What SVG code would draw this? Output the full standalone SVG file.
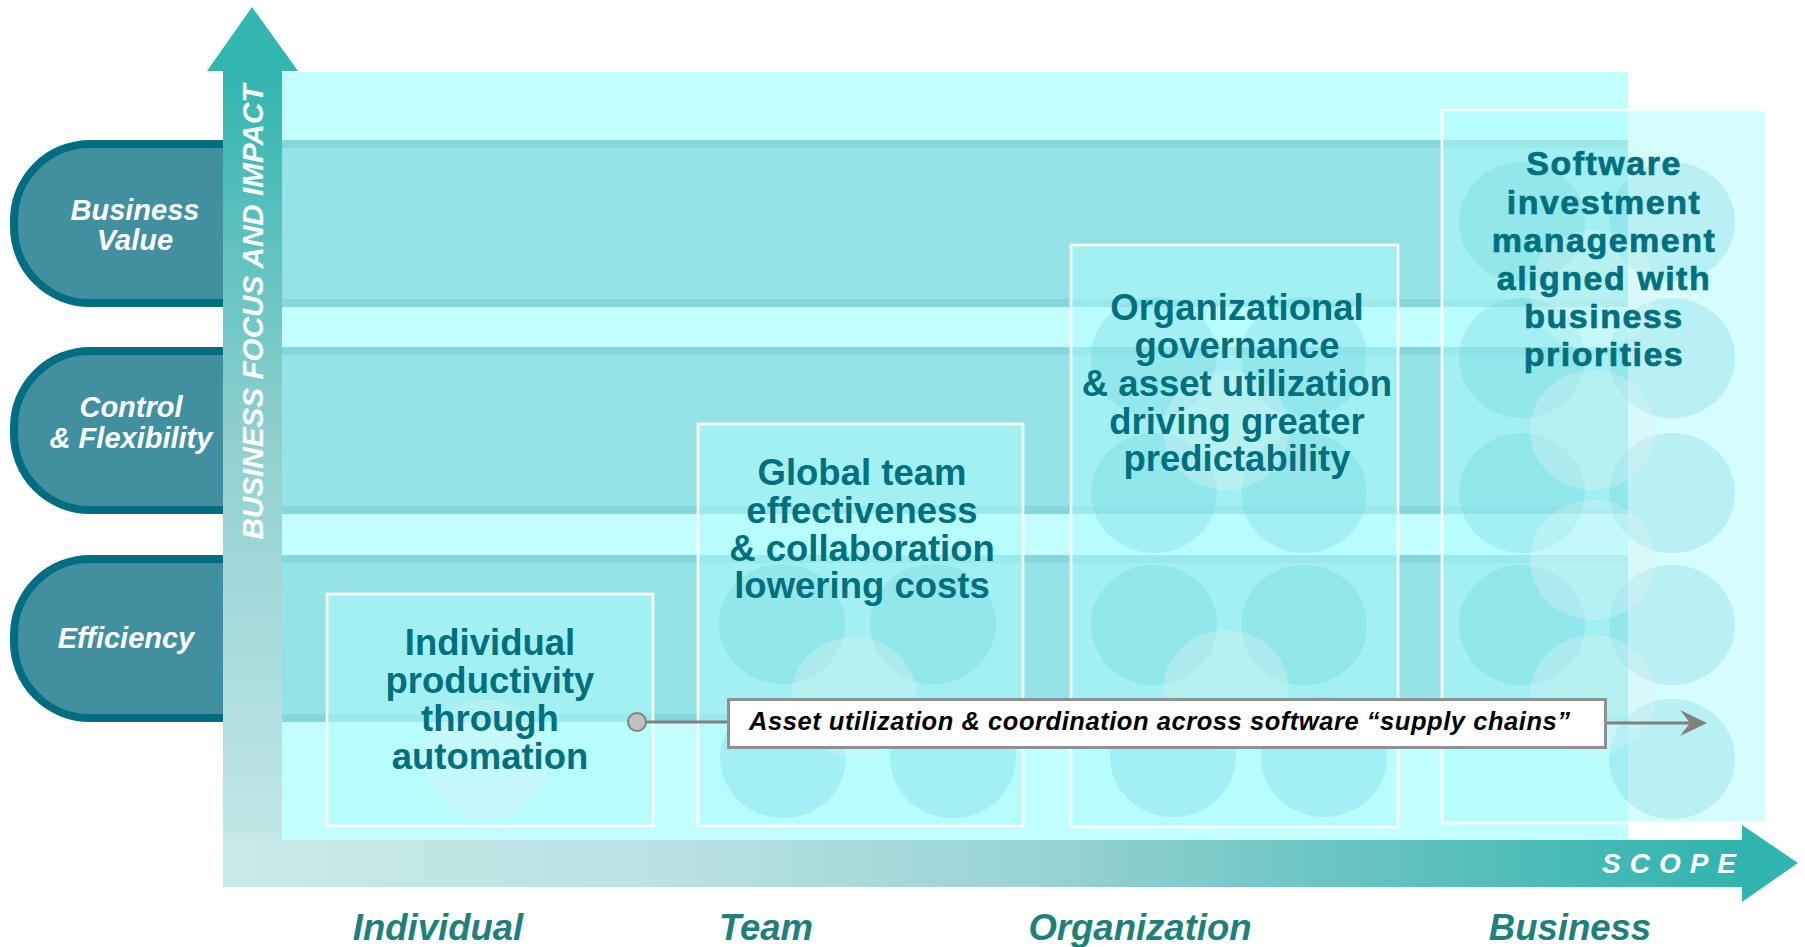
<svg xmlns="http://www.w3.org/2000/svg" width="1805" height="947" viewBox="0 0 1805 947">
<defs>
<linearGradient id="gv" gradientUnits="userSpaceOnUse" x1="0" y1="71" x2="0" y2="887">
<stop offset="0" stop-color="#33b5b0"/><stop offset="0.45" stop-color="#8fd0cf"/><stop offset="1" stop-color="#c8eaea"/>
</linearGradient>
<linearGradient id="gh" gradientUnits="userSpaceOnUse" x1="223" y1="0" x2="1742" y2="0">
<stop offset="0" stop-color="#c8eaea"/><stop offset="0.3" stop-color="#b9e2e2"/><stop offset="0.55" stop-color="#95d3d1"/><stop offset="0.78" stop-color="#5fc1bd"/><stop offset="1" stop-color="#30b4af"/>
</linearGradient>
<style>
.band{fill:#95e3e6}
.stripe{fill:#84d7dc}
.pill{fill:#4090a0;stroke:#006e80;stroke-width:8}
.pt{font-family:"Liberation Sans",Arial,sans-serif;font-weight:bold;font-style:italic;font-size:29px;fill:#fff;text-anchor:middle}
.box{fill:rgb(174,251,251);fill-opacity:0.52}
.boxs{fill:none;stroke:#fff;stroke-width:2.6}
.dc{fill:rgb(100,205,215);fill-opacity:0.26}
.lc{fill:rgb(225,242,242);fill-opacity:0.32}
.bt{font-family:"Liberation Sans",Arial,sans-serif;font-weight:bold;font-size:36.5px;fill:#00707f;text-anchor:middle}
.bt2{font-family:"Liberation Sans",Arial,sans-serif;font-weight:bold;font-size:34px;letter-spacing:1.5px;fill:#00707f;stroke:#00707f;stroke-width:0.7;text-anchor:middle}
.ax{font-family:"Liberation Sans",Arial,sans-serif;font-weight:bold;font-style:italic;font-size:36.5px;fill:#217f7a;text-anchor:middle}
</style>
</defs>

<g id="background">
<rect x="282" y="72" width="1346" height="768" fill="#c3ffff"/>
</g>

<g id="bands">
<rect class="band" x="200" y="140" width="1428" height="167"/>
<rect class="stripe" x="200" y="140" width="1428" height="8"/>
<rect class="stripe" x="200" y="299" width="1428" height="8"/>
<rect class="band" x="200" y="347" width="1428" height="167"/>
<rect class="stripe" x="200" y="347" width="1428" height="8"/>
<rect class="stripe" x="200" y="506" width="1428" height="8"/>
<rect class="band" x="200" y="555" width="1428" height="167"/>
<rect class="stripe" x="200" y="555" width="1428" height="8"/>
<rect class="stripe" x="200" y="714" width="1428" height="8"/>
</g>

<g id="pill-business-value">
<path class="pill" d="M240 144 H90 A76 76 0 0 0 14 220 V227 A76 76 0 0 0 90 303 H240 Z"/>
<text class="pt" x="135" y="220">Business</text>
<text class="pt" x="135" y="250">Value</text>
</g>
<g id="pill-control">
<path class="pill" d="M240 351 H90 A76 76 0 0 0 14 427 V434 A76 76 0 0 0 90 510 H240 Z"/>
<text class="pt" x="131" y="417">Control</text>
<text class="pt" x="131" y="448">&amp; Flexibility</text>
</g>
<g id="pill-efficiency">
<path class="pill" d="M240 559 H90 A76 76 0 0 0 14 635 V642 A76 76 0 0 0 90 718 H240 Z"/>
<text class="pt" x="126" y="648">Efficiency</text>
</g>

<g id="axis-vertical">
<rect x="223" y="71" width="59" height="816" fill="url(#gv)"/>
<polygon points="207,71 252,7 298,71" fill="#33b5b0"/>
<text transform="translate(263,312) rotate(-90)" font-family="Liberation Sans, Arial, sans-serif" font-weight="bold" font-style="italic" font-size="29.7" fill="#fff" text-anchor="middle">BUSINESS FOCUS AND IMPACT</text>
</g>

<g id="axis-horizontal">
<rect x="223" y="840" width="1520" height="47" fill="url(#gh)"/>
<polygon points="1742,825 1798,863 1742,902" fill="#30b4af"/>
<text x="1602" y="873" font-family="Liberation Sans, Arial, sans-serif" font-weight="bold" font-style="italic" font-size="28" letter-spacing="9" fill="#fff">SCOPE</text>
</g>

<g id="box-individual">
<rect class="box" x="327" y="594" width="326" height="232"/>
<ellipse class="lc" cx="486" cy="760" rx="62" ry="60"/>
<rect class="boxs" x="327" y="594" width="326" height="232"/>
<text class="bt" x="490" y="655">Individual</text>
<text class="bt" x="490" y="693">productivity</text>
<text class="bt" x="490" y="731">through</text>
<text class="bt" x="490" y="769">automation</text>
</g>

<g id="box-team">
<rect class="box" x="698" y="424" width="325" height="402"/>
<ellipse class="dc" cx="782" cy="624" rx="63" ry="60"/>
<ellipse class="dc" cx="933" cy="624" rx="63" ry="60"/>
<ellipse class="dc" cx="783" cy="758" rx="63" ry="60"/>
<ellipse class="dc" cx="953" cy="758" rx="63" ry="60"/>
<ellipse class="lc" cx="854" cy="697" rx="63" ry="60"/>
<rect class="boxs" x="698" y="424" width="325" height="402"/>
<text class="bt" x="862" y="485">Global team</text>
<text class="bt" x="862" y="523">effectiveness</text>
<text class="bt" x="862" y="561">&amp; collaboration</text>
<text class="bt" x="862" y="598">lowering costs</text>
</g>

<g id="box-organization">
<rect class="box" x="1071" y="245" width="327" height="582"/>
<ellipse class="dc" cx="1154" cy="357" rx="63" ry="60"/>
<ellipse class="dc" cx="1304" cy="357" rx="63" ry="60"/>
<ellipse class="dc" cx="1154" cy="493" rx="63" ry="60"/>
<ellipse class="dc" cx="1304" cy="493" rx="63" ry="60"/>
<ellipse class="dc" cx="1154" cy="625" rx="63" ry="60"/>
<ellipse class="dc" cx="1304" cy="625" rx="63" ry="60"/>
<ellipse class="dc" cx="1173" cy="757" rx="63" ry="60"/>
<ellipse class="dc" cx="1324" cy="757" rx="63" ry="60"/>
<ellipse class="lc" cx="1226" cy="430" rx="63" ry="60"/>
<ellipse class="lc" cx="1226" cy="690" rx="63" ry="60"/>
<rect class="boxs" x="1071" y="245" width="327" height="582"/>
<text class="bt" x="1237" y="320">Organizational</text>
<text class="bt" x="1237" y="358">governance</text>
<text class="bt" x="1237" y="396">&amp; asset utilization</text>
<text class="bt" x="1237" y="434">driving greater</text>
<text class="bt" x="1237" y="471">predictability</text>
</g>

<g id="box-business">
<rect class="box" x="1442" y="110" width="325" height="713"/>
<ellipse class="dc" cx="1522" cy="222" rx="63" ry="60"/>
<ellipse class="dc" cx="1672" cy="222" rx="63" ry="60"/>
<ellipse class="dc" cx="1522" cy="358" rx="63" ry="60"/>
<ellipse class="dc" cx="1672" cy="358" rx="63" ry="60"/>
<ellipse class="dc" cx="1522" cy="493" rx="63" ry="60"/>
<ellipse class="dc" cx="1672" cy="493" rx="63" ry="60"/>
<ellipse class="dc" cx="1522" cy="625" rx="63" ry="60"/>
<ellipse class="dc" cx="1672" cy="625" rx="63" ry="60"/>
<ellipse class="dc" cx="1672" cy="759" rx="63" ry="60"/>
<ellipse class="lc" cx="1593" cy="290" rx="63" ry="60"/>
<ellipse class="lc" cx="1593" cy="430" rx="63" ry="60"/>
<ellipse class="lc" cx="1593" cy="560" rx="63" ry="60"/>
<ellipse class="lc" cx="1593" cy="695" rx="63" ry="60"/>
<rect class="boxs" x="1442" y="110" width="325" height="713"/>
<text class="bt2" x="1604" y="175">Software</text>
<text class="bt2" x="1604" y="214">investment</text>
<text class="bt2" x="1604" y="252">management</text>
<text class="bt2" x="1604" y="290">aligned with</text>
<text class="bt2" x="1604" y="328">business</text>
<text class="bt2" x="1604" y="366">priorities</text>
</g>

<g id="connectors">
<line x1="637" y1="722" x2="727" y2="722" stroke="#808080" stroke-width="3"/>
<circle cx="637" cy="722" r="9" fill="#c0c0c0" stroke="#808080" stroke-width="2"/>
<line x1="1607" y1="723" x2="1694" y2="723" stroke="#808080" stroke-width="3"/>
<polygon points="1707,723 1680,710 1690,723 1680,736" fill="#808080"/>
</g>

<g id="label-supply-chains">
<rect x="728.5" y="699.5" width="877" height="48" fill="#fff" stroke="#909090" stroke-width="3"/>
<text x="749" y="730" font-family="Liberation Sans, Arial, sans-serif" font-weight="bold" font-style="italic" font-size="25.5" letter-spacing="0.55" fill="#000">Asset utilization &amp; coordination across software “supply chains”</text>
</g>

<g id="scope-labels">
<text class="ax" x="438" y="940">Individual</text>
<text class="ax" x="766" y="940">Team</text>
<text class="ax" x="1140" y="940">Organization</text>
<text class="ax" x="1570" y="940">Business</text>
</g>
</svg>
